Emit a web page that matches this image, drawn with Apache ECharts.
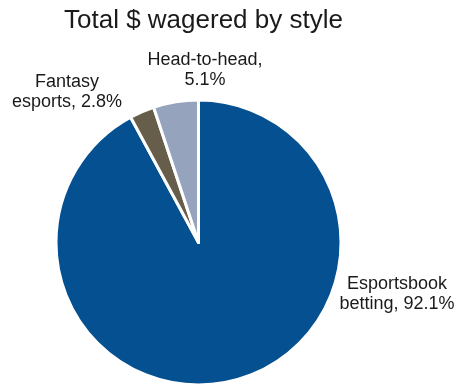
<!DOCTYPE html>
<html>
<head>
<meta charset="utf-8">
<script src="https://cdn.jsdelivr.net/npm/echarts@6/dist/echarts.min.js"></script>
<style>
  html, body { margin: 0; padding: 0; background: #fff; }
  #chart { width: 461px; height: 385px; }
</style>
</head>
<body>
<div id="chart"></div>
<script>
// Share of total dollars wagered, by betting style (percent)
const categories = ['Esportsbook\nbetting', 'Fantasy\nesports', 'Head-to-head'];
const shares = [92.1, 2.8, 5.1];
const sliceColors = ['#055091', '#675d4b', '#95a4bc'];

// Label anchor points (block centres), one per slice
const labelAnchors = [[397, 294], [67, 92], [205, 70]];

const chart = echarts.init(document.getElementById('chart'));

chart.setOption({
  animation: false,
  title: {
    text: 'Total $ wagered by style',
    left: 59,
    top: 3,
    textStyle: {
      fontFamily: 'Liberation Sans',
      fontSize: 26,
      fontWeight: 'normal',
      color: '#1a1a1a'
    }
  },
  series: [{
    type: 'pie',
    center: [198.5, 242.5],
    radius: 142.5,
    startAngle: 90,
    clockwise: true,
    data: categories.map((name, i) => ({
      name: name,
      value: shares[i],
      itemStyle: { color: sliceColors[i] }
    })),
    itemStyle: { borderColor: '#ffffff', borderWidth: 3 },
    label: {
      show: true,
      position: 'outside',
      alignTo: 'none',
      overflow: 'none',
      fontFamily: 'Liberation Sans',
      fontSize: 18,
      lineHeight: 20,
      color: '#1a1a1a',
      align: 'center',
      formatter: p => p.name + ',' + (p.name.indexOf('\n') >= 0 ? ' ' : '\n') + p.value.toFixed(1) + '%'
    },
    labelLine: { show: false },
    labelLayout: p => ({
      x: labelAnchors[p.dataIndex][0],
      y: labelAnchors[p.dataIndex][1],
      align: 'center',
      verticalAlign: 'middle'
    }),
    emphasis: { disabled: true }
  }]
});
</script>
</body>
</html>
